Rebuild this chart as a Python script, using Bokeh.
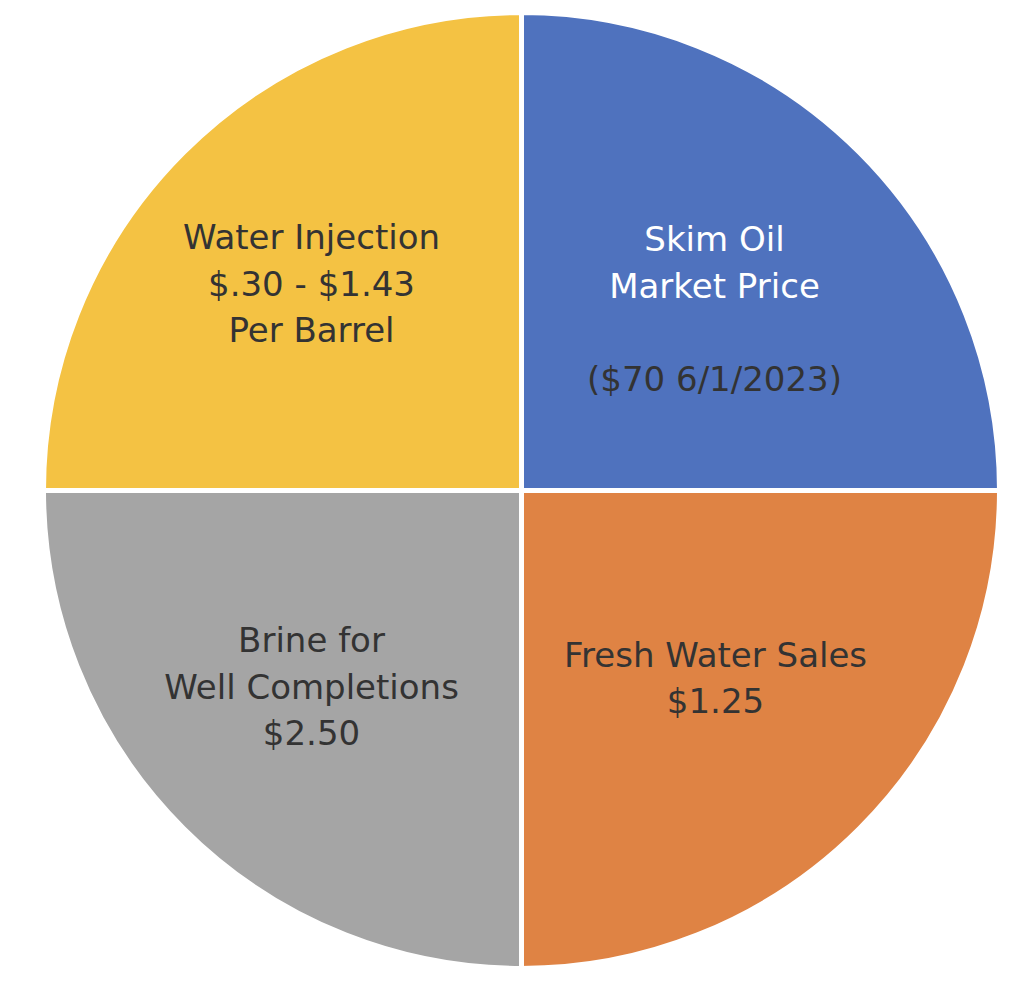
import math
from bokeh.plotting import figure
from bokeh.models import Range1d, ColumnDataSource
from bokeh.core.properties import value
from bokeh.embed import file_html
from bokeh.resources import INLINE

# ---- data ----
categories = ["Skim Oil", "Water Injection", "Brine for Well Completions", "Fresh Water Sales"]
shares = [25, 25, 25, 25]
colors = ["#4F72BE", "#F4C243", "#A5A5A5", "#DF8344"]
label_lines = [
    ["Skim Oil", "Market Price", "", "($70 6/1/2023)"],
    ["Water Injection", "$.30 - $1.43", "Per Barrel"],
    ["Brine for", "Well Completions", "$2.50"],
    ["Fresh Water Sales", "$1.25"],
]
label_colors = [
    ["#FFFFFF", "#FFFFFF", "#FFFFFF", "#333333"],
    ["#333333", "#333333", "#333333"],
    ["#333333", "#333333", "#333333"],
    ["#333333", "#333333"],
]

# ---- layout ----
W, H = 1008, 968
cx_px, cy_px = 521, 490          # pie centre inside the plot (px from left/top)
R = 478
LINE_GAP = 46.5
label_anchor = [(193, 181.5), (-210, 207), (-210, -196), (194, -187.5)]

p = figure(width=W, height=H, output_backend="svg", toolbar_location=None,
           x_range=Range1d(-cx_px, W - cx_px), y_range=Range1d(-(H - cy_px), cy_px),
           min_border=0, match_aspect=False)
p.axis.visible = False
p.grid.visible = False
p.outline_line_color = None
p.background_fill_color = "white"
p.border_fill_color = "white"

total = sum(shares)
starts, ends = [], []
acc = 0.0
for s in shares:
    starts.append(2 * math.pi * acc / total)
    acc += s
    ends.append(2 * math.pi * acc / total)

src = ColumnDataSource(dict(start=starts, end=ends, color=colors, cat=categories))
p.wedge(x=0, y=0, radius=R, start_angle="start", end_angle="end",
        fill_color="color", line_color="white", line_width=5, source=src)

tx, ty, tt, tc = [], [], [], []
for (ax, ay), lines, cols in zip(label_anchor, label_lines, label_colors):
    n = len(lines)
    for i, (t, c) in enumerate(zip(lines, cols)):
        if not t:
            continue
        tx.append(ax)
        ty.append(ay - (i - (n - 1) / 2) * LINE_GAP)
        tt.append(t)
        tc.append(c)

tsrc = ColumnDataSource(dict(x=tx, y=ty, text=tt, color=tc))
p.text(x="x", y="y", text="text", text_color="color", source=tsrc,
       text_font=value("DejaVu Sans"), text_font_size="34px",
       text_align="center", text_baseline="middle")

open("out.html", "w").write(file_html(p, INLINE))
